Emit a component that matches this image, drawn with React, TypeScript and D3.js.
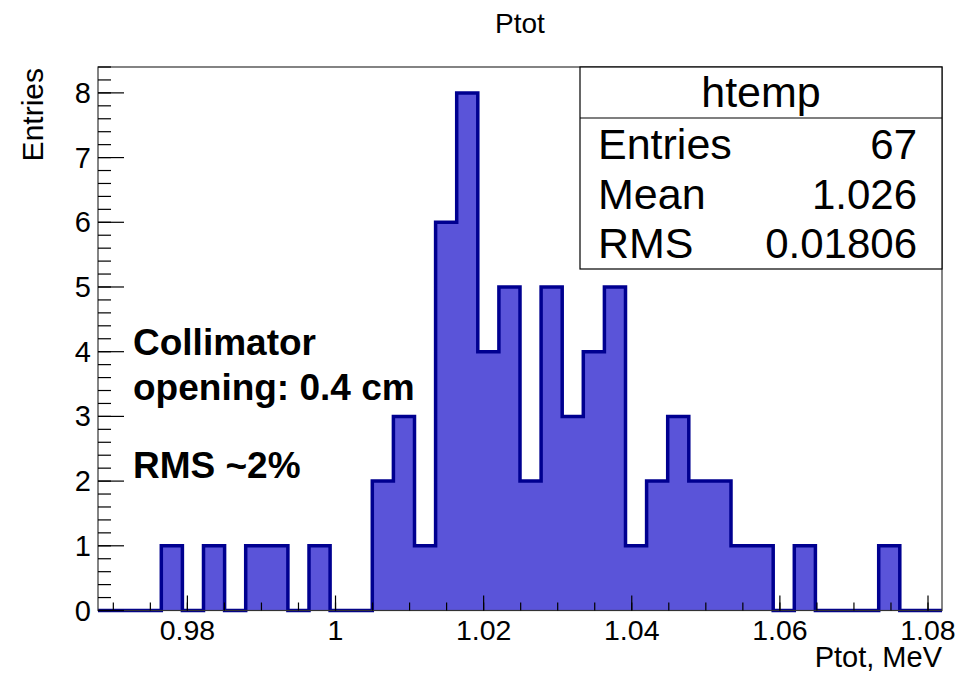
import React from "react";
import * as d3 from "d3";

const xMin = 0.96793;
const xMax = 1.08189;
const counts = [0, 0, 0, 1, 0, 1, 0, 1, 1, 0, 1, 0, 0, 2, 3, 1, 6, 8, 4, 5, 2, 5, 3, 4, 5, 1, 2, 3, 2, 2, 1, 1, 0, 1, 0, 0, 0, 1, 0, 0];
const xTickValues = [0.98, 1.0, 1.02, 1.04, 1.06, 1.08];
const xTickLabels = ["0.98", "1", "1.02", "1.04", "1.06", "1.08"];
const yTickValues = [0, 1, 2, 3, 4, 5, 6, 7, 8];
const statLabels = ["Entries", "Mean", "RMS"];
const statValues = ["67", "1.026", "0.01806"];
const noteLines = ["Collimator", "opening: 0.4 cm"];
const noteRms = "RMS ~2%";

const W = 975;
const H = 674;
const L = 98, R = 942, T = 67, B = 610.5;
const FONT = "'Liberation Sans', Arial, Helvetica, sans-serif";

export default function App() {
  const x = d3.scaleLinear().domain([xMin, xMax]).range([L, R]);
  const y = d3.scaleLinear().domain([0, 8.4]).range([B, T]);
  const n = counts.length;
  const bw = (xMax - xMin) / n;

  let d = `M${x(xMin)},${y(0)}`;
  counts.forEach((c, i) => {
    d += `L${x(xMin + i * bw)},${y(c)}L${x(xMin + (i + 1) * bw)},${y(c)}`;
  });
  d += `L${x(xMax)},${y(0)}`;

  const xMinor: number[] = [];
  for (let v = Math.ceil(xMin / 0.005) * 0.005; v <= xMax; v += 0.005) xMinor.push(v);
  const yMinor: number[] = [];
  for (let k = 0; k <= 42; k++) yMinor.push(k * 0.2);

  const boxL = 580, boxR = R, boxT = T, boxB = 269, boxDiv = 118;

  return (
    <svg width={W} height={H} style={{ position: "absolute", left: 0, top: 0, background: "#fff" }} fontFamily={FONT}>
      <rect x={0} y={0} width={W} height={H} fill="#fff" />
      <text x={520} y={33} fontSize={28} textAnchor="middle" fill="#000">Ptot</text>

      <path d={d} fill="#5a54d9" stroke="none" />
      <path d={d} fill="none" stroke="#000090" strokeWidth={3.5} strokeLinejoin="miter" />

      <rect x={L} y={T} width={R - L} height={B - T} fill="none" stroke="#333" strokeWidth={1.2} />

      {xMinor.map((v, i) => (
        <line key={"xm" + i} x1={x(v)} x2={x(v)} y1={B} y2={B - 8} stroke="#000" strokeWidth={1.2} />
      ))}
      {xTickValues.map((v, i) => (
        <g key={"xt" + i}>
          <line x1={x(v)} x2={x(v)} y1={B} y2={B - 15} stroke="#000" strokeWidth={1.2} />
          <text x={x(v)} y={640} fontSize={28.5} textAnchor="middle" fill="#000">{xTickLabels[i]}</text>
        </g>
      ))}
      {yMinor.map((v, i) => (
        <line key={"ym" + i} x1={L} x2={L + 13} y1={y(v)} y2={y(v)} stroke="#000" strokeWidth={1.2} />
      ))}
      {yTickValues.map((v, i) => (
        <g key={"yt" + i}>
          <line x1={L} x2={L + 26} y1={y(v)} y2={y(v)} stroke="#000" strokeWidth={1.2} />
          <text x={91} y={y(v) + 10} fontSize={29} textAnchor="end" fill="#000">{String(v)}</text>
        </g>
      ))}

      <text x={R} y={667} fontSize={29} textAnchor="end" fill="#000">Ptot, MeV</text>
      <text transform={`translate(43,68) rotate(-90)`} fontSize={30} textAnchor="end" fill="#000">Entries</text>

      <rect x={boxL} y={boxT} width={boxR - boxL} height={boxB - boxT} fill="#fff" stroke="#000" strokeWidth={1.2} />
      <line x1={boxL} x2={boxR} y1={boxDiv} y2={boxDiv} stroke="#000" strokeWidth={1.2} />
      <text x={(boxL + boxR) / 2} y={107} fontSize={43} textAnchor="middle" fill="#000">htemp</text>
      {statLabels.map((s, i) => (
        <g key={"st" + i}>
          <text x={598} y={159 + i * 49.5} fontSize={43} fill="#000">{s}</text>
          <text x={917} y={159 + i * 49.5} fontSize={42} textAnchor="end" fill="#000">{statValues[i]}</text>
        </g>
      ))}

      {noteLines.map((s, i) => (
        <text key={"n" + i} x={133} y={355 + i * 45} fontSize={37} fontWeight="bold" fill="#000">{s}</text>
      ))}
      <text x={133} y={478} fontSize={37} fontWeight="bold" fill="#000">{noteRms}</text>
    </svg>
  );
}
